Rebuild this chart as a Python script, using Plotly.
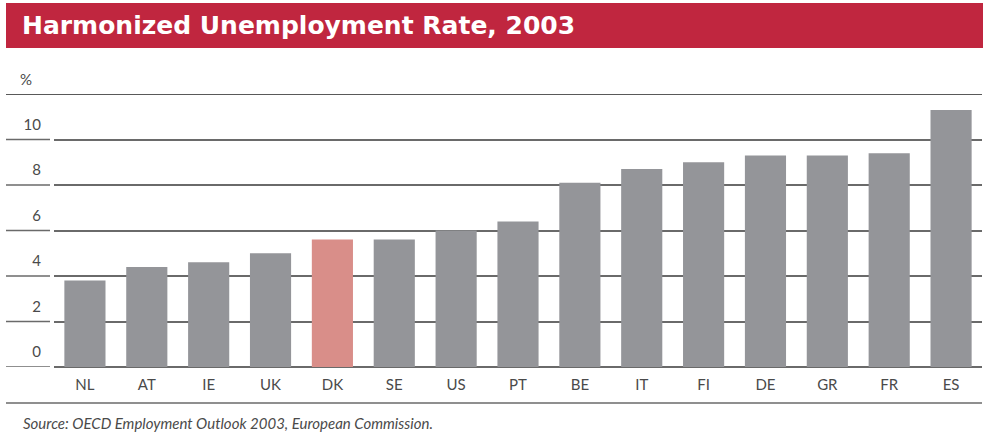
import plotly.graph_objects as go

# Harmonized unemployment rate 2003, per cent of labour force
countries = ["NL", "AT", "IE", "UK", "DK", "SE", "US", "PT", "BE", "IT", "FI", "DE", "GR", "FR", "ES"]
rates = [3.8, 4.4, 4.6, 5.0, 5.6, 5.6, 6.0, 6.4, 8.1, 8.7, 9.0, 9.3, 9.3, 9.4, 11.3]
highlight = "DK"

y_ticks = [0, 2, 4, 6, 8, 10]
y_top = 12

title_text = "Harmonized Unemployment Rate, 2003"
source_text = "Source: OECD Employment Outlook 2003, European Commission."

GREY_BAR = "#949599"
RED_BAR = "#D98E89"
BANNER = "#C0263F"
GRID = "#6a6a6a"
TEXT = "#4a4a4a"

W, H = 985, 438
ML, MR, MT, MB = 54, 3, 94, 71
plot_w = W - ML - MR
plot_h = H - MT - MB


def px_x(px):
    return (px - ML) / plot_w


def px_y(py):
    return (H - MB - py) / plot_h


bar_colors = [RED_BAR if c == highlight else GREY_BAR for c in countries]

fig = go.Figure(
    go.Bar(
        x=countries,
        y=rates,
        marker=dict(color=bar_colors, line=dict(width=0)),
        width=0.665,
        hoverinfo="x+y",
    )
)

shapes = []
# top rule at the 12 mark
shapes.append(dict(type="line", xref="paper", yref="y", x0=px_x(6), x1=px_x(982),
                   y0=y_top, y1=y_top, line=dict(color="#222222", width=1.6), layer="above"))
# short rules under the tick labels, left of the plot
for v in y_ticks:
    shapes.append(dict(type="line", xref="paper", yref="y", x0=px_x(6), x1=px_x(50),
                       y0=v, y1=v, line=dict(color=GRID, width=1.6)))
# rule under the category labels
shapes.append(dict(type="line", xref="paper", yref="paper", x0=px_x(6), x1=px_x(982),
                   y0=px_y(403), y1=px_y(403), line=dict(color=GRID, width=1.6)))
# title banner
shapes.append(dict(type="rect", xref="paper", yref="paper", x0=px_x(6), x1=px_x(983),
                   y0=px_y(48), y1=px_y(3), fillcolor=BANNER, line=dict(width=0), layer="below"))

annotations = [
    dict(text="<b>" + title_text + "</b>", xref="paper", yref="paper", x=px_x(20), y=px_y(25.5),
         xanchor="left", yanchor="middle", showarrow=False,
         font=dict(family="DejaVu Sans", size=25, color="white")),
    dict(text="%", xref="paper", yref="y", x=px_x(34), y=y_top, yshift=15,
         xanchor="right", yanchor="middle", showarrow=False,
         font=dict(family="Lato", size=15, color=TEXT)),
    dict(text="<i>" + source_text + "</i>", xref="paper", yref="paper", x=px_x(21), y=px_y(423),
         xanchor="left", yanchor="middle", showarrow=False,
         font=dict(family="Lato", size=15, color=TEXT)),
]

fig.update_layout(
    width=W,
    height=H,
    margin=dict(l=ML, r=MR, t=MT, b=MB, pad=0),
    paper_bgcolor="white",
    plot_bgcolor="white",
    showlegend=False,
    shapes=shapes,
    annotations=annotations,
    xaxis=dict(
        type="category",
        range=[-0.5, len(countries) - 0.5],
        showgrid=False,
        showline=False,
        ticks="",
        ticklabelstandoff=7,
        tickfont=dict(family="Lato", size=15, color=TEXT),
        fixedrange=True,
    ),
    yaxis=dict(
        range=[0, y_top],
        tickvals=y_ticks,
        ticktext=[str(v) for v in y_ticks],
        showgrid=True,
        gridcolor=GRID,
        gridwidth=1.6,
        zeroline=True,
        zerolinecolor=GRID,
        zerolinewidth=1.6,
        showline=False,
        ticks="",
        ticklabelshift=-15,
        ticklabelstandoff=12,
        tickfont=dict(family="Lato", size=15, color=TEXT),
        fixedrange=True,
    ),
)

fig.write_html("out.html")
